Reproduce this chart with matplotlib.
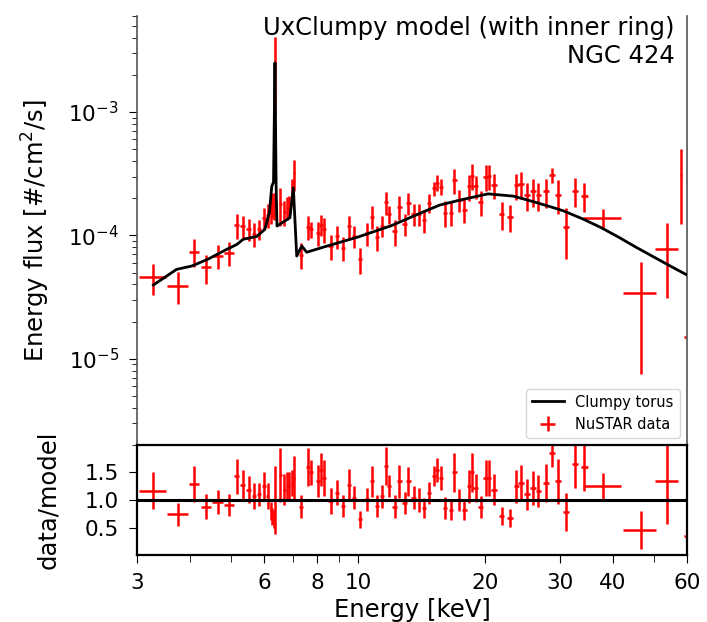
import matplotlib
matplotlib.use("Agg")
import matplotlib.pyplot as plt
from matplotlib.ticker import FixedLocator, FixedFormatter, NullFormatter, LogLocator

# ---- model curve (Clumpy torus) ----
model_E = [3.28, 3.72, 4.04, 4.41, 4.89, 5.17, 5.35, 5.76, 6.02, 6.17, 6.25, 6.31, 6.36,
           6.40, 6.43, 6.90, 7.03, 7.16, 7.36, 7.56, 8.35, 10.0, 12.0, 14.4, 15.6, 17.4,
           20.3, 23.3, 26.2, 28.6, 30.6, 34.0, 37.5, 41.5, 45.5, 50.0, 55.0, 60.5]
model_F = [3.96e-5, 5.30e-5, 5.64e-5, 6.4e-5, 7.7e-5, 8.45e-5, 9.3e-5, 9.8e-5, 1.12e-4,
           1.53e-4, 2.5e-4, 2.7e-4, 2.5e-3, 2.5e-4, 1.19e-4, 1.39e-4, 2.43e-4, 6.8e-5,
           8.2e-5, 7.3e-5, 8.1e-5, 9.7e-5, 1.2e-4, 1.57e-4, 1.76e-4, 1.93e-4, 2.17e-4,
           2.08e-4, 1.86e-4, 1.70e-4, 1.58e-4, 1.36e-4, 1.16e-4, 9.6e-5, 8.0e-5, 6.7e-5,
           5.6e-5, 4.7e-5]

# ---- NuSTAR data ----
data_E = [3.27, 3.745, 4.09, 4.37, 4.66, 4.96, 5.17, 5.34, 5.51, 5.68,
          5.83, 6.00, 6.12, 6.21, 6.27, 6.32, 6.36, 6.55, 6.69, 6.79,
          6.88, 6.97, 7.05, 7.32, 7.60, 7.74, 8.03, 8.17, 8.31, 8.61,
          8.91, 9.22, 9.54, 9.77, 10.1, 10.49, 10.78, 11.08, 11.37, 11.64,
          11.86, 12.2, 12.53, 12.88, 13.16, 13.53, 13.91, 14.32, 14.72, 15.1,
          15.4, 15.68, 16.07, 16.6, 16.9, 17.37, 17.84, 18.33, 18.6, 19.0,
          19.5, 20.05, 20.42, 20.98, 21.9, 22.9, 23.7, 24.3, 25.1, 25.9,
          26.7, 27.9, 28.8, 29.7, 31.1, 32.6, 34.3, 38.0, 46.6, 53.8,
          58.0, 62.0]
data_dE = [0.24, 0.22, 0.11, 0.13, 0.14, 0.14, 0.07, 0.07, 0.07, 0.07,
           0.07, 0.06, 0.05, 0.03, 0.03, 0.02, 0.02, 0.05, 0.05, 0.05,
           0.04, 0.04, 0.04, 0.08, 0.08, 0.07, 0.08, 0.07, 0.08, 0.10,
           0.10, 0.10, 0.10, 0.10, 0.12, 0.12, 0.12, 0.13, 0.13, 0.12,
           0.12, 0.15, 0.15, 0.15, 0.15, 0.17, 0.17, 0.18, 0.18, 0.18,
           0.16, 0.18, 0.20, 0.20, 0.20, 0.22, 0.22, 0.22, 0.20, 0.25,
           0.25, 0.25, 0.25, 0.30, 0.30, 0.35, 0.35, 0.35, 0.40, 0.40,
           0.40, 0.45, 0.45, 0.45, 0.50, 0.60, 0.60, 3.95, 4.20, 3.30,
           0.25, 3.00]
data_F = [4.6e-5, 3.92e-5, 7.4e-5, 5.5e-5, 6.85e-5, 7.2e-5, 1.21e-4, 1.18e-4, 1.13e-4, 1.03e-4,
          1.12e-4, 1.39e-4, 1.47e-4, 1.57e-4, 1.80e-4, 1.76e-4, 2.5e-3, 1.80e-4, 1.55e-4, 1.68e-4,
          1.73e-4, 2.46e-4, 3.2e-4, 6.95e-5, 1.17e-4, 1.12e-4, 1.05e-4, 1.22e-4, 1.13e-4, 8.2e-5,
          9.8e-5, 7.95e-5, 1.18e-4, 9.9e-5, 6.4e-5, 1.04e-4, 1.42e-4, 9.7e-5, 1.20e-4, 1.86e-4,
          1.48e-4, 1.08e-4, 1.71e-4, 1.24e-4, 1.83e-4, 1.49e-4, 1.49e-4, 1.33e-4, 1.83e-4, 2.40e-4,
          2.68e-4, 2.48e-4, 1.53e-4, 1.52e-4, 2.82e-4, 1.93e-4, 1.61e-4, 2.51e-4, 3.05e-4, 2.51e-4,
          1.85e-4, 3.00e-4, 3.04e-4, 2.56e-4, 1.49e-4, 1.41e-4, 2.56e-4, 2.62e-4, 2.13e-4, 2.29e-4,
          2.11e-4, 2.27e-4, 3.09e-4, 2.14e-4, 1.16e-4, 2.31e-4, 2.10e-4, 1.38e-4, 3.4e-5, 7.8e-5,
          3.1e-4, 1.5e-5]
data_Ferr = [1.3e-5, 1.12e-5, 1.9e-5, 1.45e-5, 1.55e-5, 1.6e-5, 2.7e-5, 2.5e-5, 2.3e-5, 2.2e-5,
             2.1e-5, 2.9e-5, 3.2e-5, 3.3e-5, 4.1e-5, 4.3e-5, 1.55e-3, 6.1e-5, 3.6e-5, 3.5e-5,
             3.5e-5, 4.3e-5, 9.0e-5, 1.65e-5, 2.6e-5, 1.7e-5, 2.25e-5, 2.4e-5, 2.6e-5, 1.9e-5,
             2.0e-5, 1.8e-5, 2.6e-5, 2.0e-5, 1.5e-5, 2.15e-5, 3.0e-5, 2.2e-5, 2.35e-5, 3.9e-5,
             2.4e-5, 2.6e-5, 3.8e-5, 2.6e-5, 3.6e-5, 3.0e-5, 3.1e-5, 2.8e-5, 3.2e-5, 3.0e-5,
             3.8e-5, 3.7e-5, 3.6e-5, 3.3e-5, 6.6e-5, 3.9e-5, 3.5e-5, 6.0e-5, 7.3e-5, 5.4e-5,
             4.2e-5, 6.9e-5, 6.9e-5, 6.0e-5, 3.8e-5, 3.4e-5, 6.1e-5, 6.6e-5, 5.4e-5, 5.8e-5,
             5.3e-5, 6.1e-5, 4.3e-5, 6.6e-5, 5.2e-5, 6.0e-5, 5.6e-5, 2.5e-5, 2.65e-5, 4.7e-5,
             1.87e-4, 9.0e-6]
ratio = [1.17, 0.74, 1.29, 0.88, 0.97, 0.91, 1.43, 1.28, 1.19, 1.07,
         1.10, 1.25, 1.07, 0.80, 0.70, 0.65, 1.00, 1.45, 1.19, 1.25,
         1.25, 1.31, 1.40, 0.88, 1.60, 1.50, 1.35, 1.55, 1.40, 0.98,
         1.13, 0.89, 1.28, 1.04, 0.65, 1.01, 1.34, 0.89, 1.07, 1.62,
         1.25, 0.88, 1.34, 0.94, 1.34, 1.04, 1.00, 0.85, 1.13, 1.43,
         1.55, 1.40, 0.85, 0.82, 1.50, 1.00, 0.82, 1.25, 1.50, 1.22,
         0.88, 1.40, 1.40, 1.19, 0.71, 0.67, 1.25, 1.31, 1.10, 1.22,
         1.16, 1.31, 1.86, 1.34, 0.78, 1.65, 1.60, 1.25, 0.46, 1.34,
         6.20, 0.35]
ratio_err = [0.33, 0.21, 0.33, 0.23, 0.22, 0.20, 0.32, 0.27, 0.245, 0.23,
             0.21, 0.26, 0.23, 0.17, 0.16, 0.16, 0.62, 0.49, 0.28, 0.26,
             0.25, 0.23, 0.40, 0.21, 0.35, 0.23, 0.29, 0.30, 0.32, 0.23,
             0.23, 0.20, 0.28, 0.21, 0.15, 0.21, 0.28, 0.20, 0.21, 0.34,
             0.20, 0.21, 0.30, 0.20, 0.26, 0.21, 0.21, 0.18, 0.20, 0.18,
             0.22, 0.21, 0.20, 0.18, 0.35, 0.20, 0.18, 0.30, 0.36, 0.26,
             0.20, 0.32, 0.32, 0.28, 0.16, 0.16, 0.30, 0.33, 0.28, 0.31,
             0.29, 0.35, 0.26, 0.41, 0.35, 0.43, 0.43, 0.245, 0.345, 0.78,
             3.7, 0.20]

xtick_vals = [3, 6, 8, 10, 20, 30, 40, 60]
xtick_labels = ["3", "6", "8", "10", "20", "30", "40", "60"]
ratio_ticks = [0.5, 1.0, 1.5]
ratio_tick_labels = ["0.5", "1.0", "1.5"]

plt.rcParams['font.family'] = ['DejaVu Sans']

TICK_FS = 15.5
LABEL_FS = 17.5

fig = plt.figure(figsize=(7.07, 6.22), dpi=100)
ax = fig.add_axes([0.1938, 0.2846, 0.7779, 0.6897])
ax2 = fig.add_axes([0.1938, 0.1077, 0.7779, 0.1769], sharex=ax)

ax.plot(model_E, model_F, color='k', lw=2.0, label='Clumpy torus', zorder=3)
ax.errorbar(data_E, data_F, xerr=data_dE, yerr=data_Ferr, ls='none', color='r',
            elinewidth=1.8, capsize=0, label='NuSTAR data', zorder=2)
ax.set_xscale('log')
ax.set_yscale('log')
ax.set_xlim(3, 60)
ax.set_ylim(2e-6, 6e-3)
ax.spines['top'].set_visible(False)
for s in ('left', 'right'):
    ax.spines[s].set_color('#555555')
    ax.spines[s].set_linewidth(1.2)
ax.set_ylabel('Energy flux [#/cm$^2$/s]', fontsize=LABEL_FS, labelpad=12)
ax.tick_params(axis='y', which='major', labelsize=TICK_FS, length=6, pad=7)
ax.tick_params(axis='y', which='minor', length=3.5)
ax.tick_params(axis='x', which='both', bottom=False, labelbottom=False)
ax.yaxis.set_minor_locator(LogLocator(base=10, subs=range(2, 10), numticks=20))
ax.yaxis.set_minor_formatter(NullFormatter())
leg = ax.legend(loc='lower right', fontsize=10.5, framealpha=0.8, handlelength=2.2)

ax.text(0.978, 1.0, 'UxClumpy model (with inner ring)\nNGC 424', transform=ax.transAxes,
        ha='right', va='top', fontsize=17.5, linespacing=1.22)

ax2.errorbar(data_E, ratio, xerr=data_dE, yerr=ratio_err, ls='none', color='r',
             elinewidth=1.8, capsize=0, zorder=2)
ax2.axhline(1.0, color='k', lw=2.2, zorder=3)
ax2.set_ylim(0, 2)
ax2.set_yticks(ratio_ticks)
ax2.set_yticklabels(ratio_tick_labels)
ax2.set_xscale('log')
ax2.set_xlim(3, 60)
ax2.xaxis.set_major_locator(FixedLocator(xtick_vals))
ax2.xaxis.set_major_formatter(FixedFormatter(xtick_labels))
ax2.xaxis.set_minor_locator(FixedLocator([4, 5, 7, 9, 50]))
ax2.xaxis.set_minor_formatter(NullFormatter())
ax2.tick_params(axis='both', which='major', labelsize=TICK_FS, length=6, pad=7)
ax2.tick_params(axis='x', which='minor', length=5)
ax2.set_ylabel('data/model', fontsize=LABEL_FS, labelpad=18)
ax2.set_xlabel('Energy [keV]', fontsize=LABEL_FS, labelpad=3.5)
for sp in ax2.spines.values():
    sp.set_linewidth(1.6)

fig.savefig('out.png', dpi=100)
